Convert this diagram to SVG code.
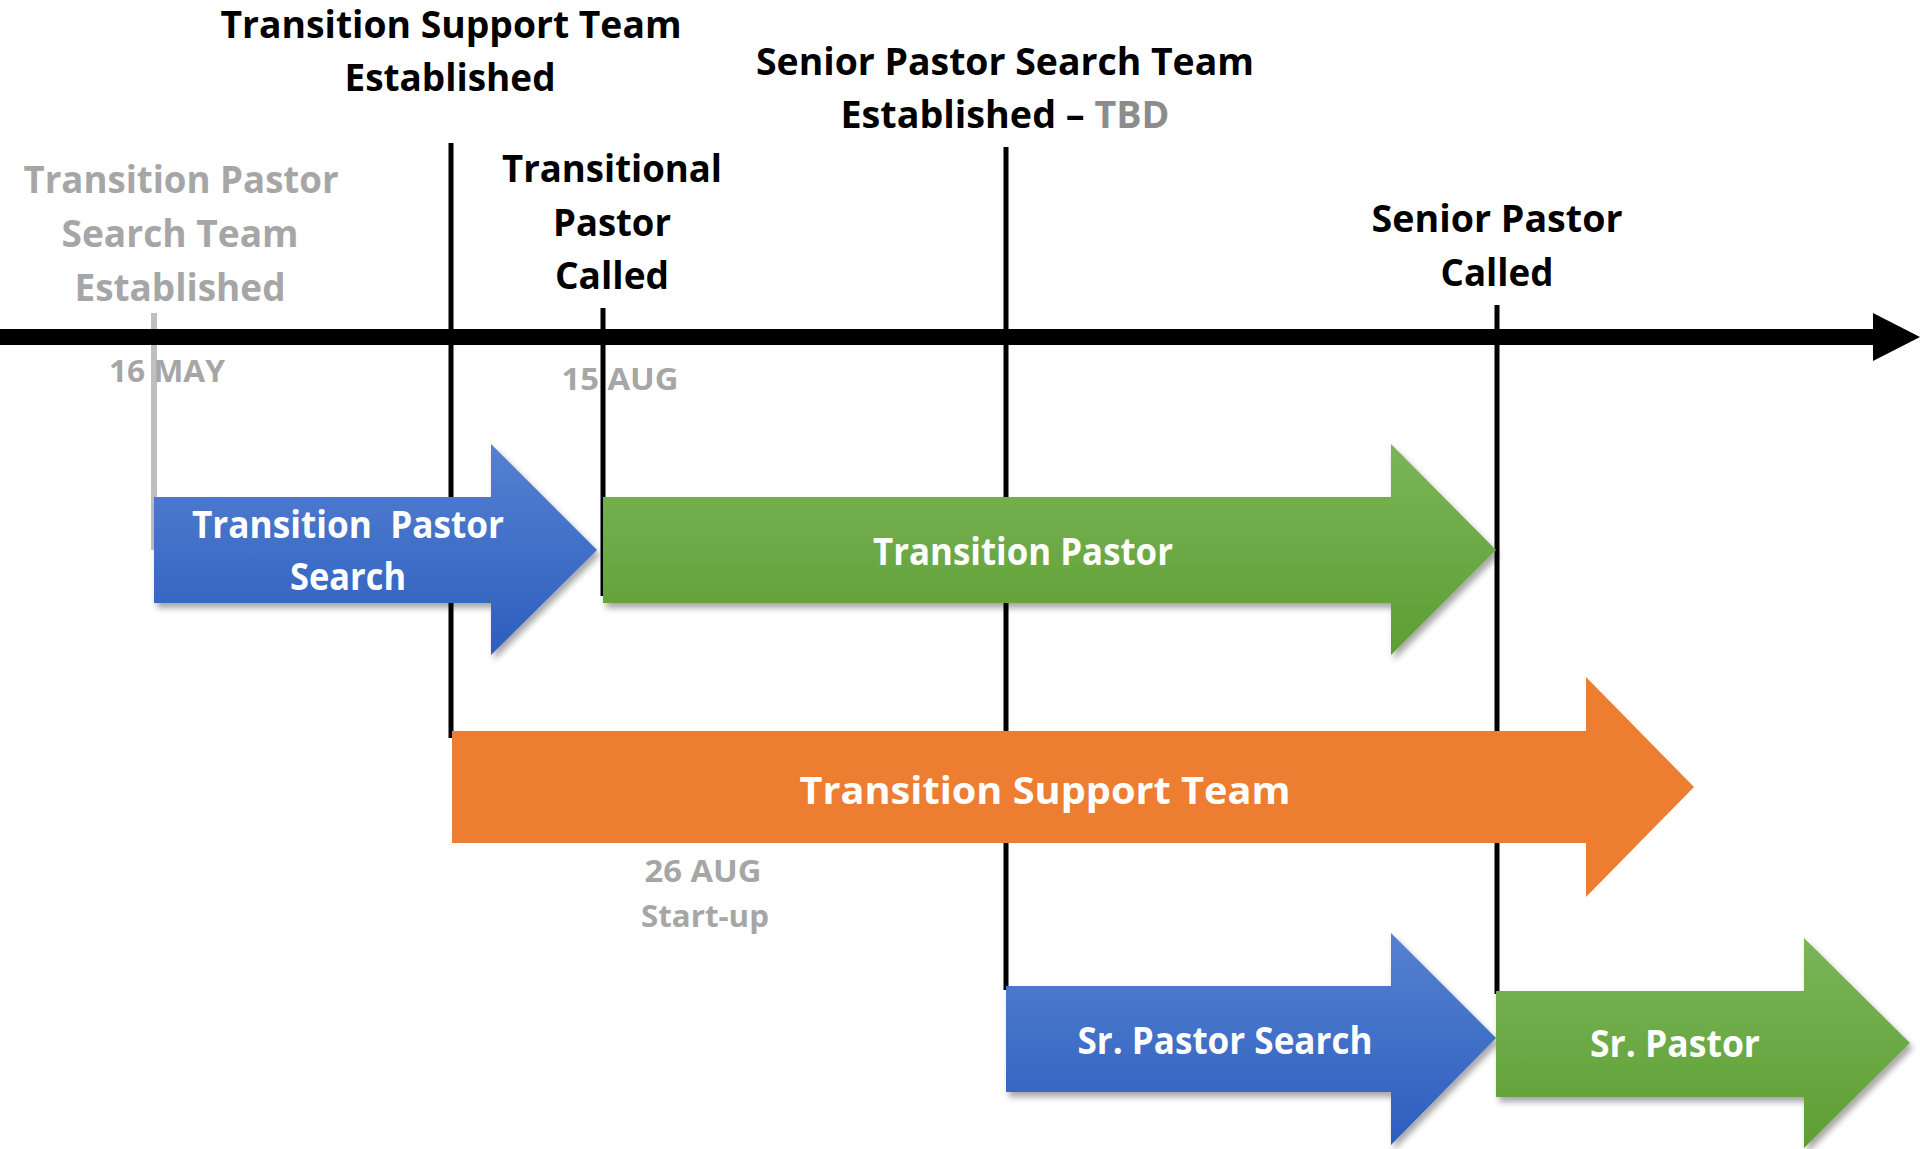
<svg xmlns="http://www.w3.org/2000/svg" width="1920" height="1149" viewBox="0 0 1920 1149">
<defs>
<linearGradient id="gBlue" x1="0" y1="0" x2="0" y2="1">
<stop offset="0" stop-color="#5581D1"/>
<stop offset="1" stop-color="#2D5EBE"/>
</linearGradient>
<linearGradient id="gGreen" x1="0" y1="0" x2="0" y2="1">
<stop offset="0" stop-color="#7AB558"/>
<stop offset="1" stop-color="#5E9E33"/>
</linearGradient>
<filter id="shadow" x="-10%" y="-10%" width="125%" height="130%">
<feDropShadow dx="3" dy="5" stdDeviation="3" flood-color="#000" flood-opacity="0.35"/>
</filter>
</defs>
<style>
text{font-family:"Open Sans","Noto Sans","Liberation Sans",sans-serif;font-weight:700;text-anchor:middle}
.h{font-size:37px;fill:#000}
.hg{font-size:37px;fill:#A6A6A6}
.d{font-size:31px;fill:#A6A6A6}
.w{font-size:38px;fill:#FFFFFF}
.vl{stroke:#000;stroke-width:5;fill:none}
</style>
<rect width="1920" height="1149" fill="#FFFFFF"/>
<g id="connectors">
<line class="vl" x1="154" y1="313" x2="154" y2="550" style="stroke:#BFBFBF;stroke-width:6"/>
<line class="vl" x1="451" y1="143" x2="451" y2="738"/>
<line class="vl" x1="603" y1="308" x2="603" y2="596"/>
<line class="vl" x1="1006" y1="147" x2="1006" y2="990"/>
<line class="vl" x1="1497" y1="305" x2="1497" y2="994"/>
<g id="axis">
<rect x="0" y="329" width="1875" height="16" fill="#000"/>
<polygon points="1873,313 1920,337 1873,361" fill="#000"/>
</g>
</g>
<g id="milestone-tpst">
<text class="hg" x="181" y="193" textLength="315" lengthAdjust="spacingAndGlyphs">Transition Pastor</text>
<text class="hg" x="180" y="247" textLength="237" lengthAdjust="spacingAndGlyphs">Search Team</text>
<text class="hg" x="180" y="301" textLength="211" lengthAdjust="spacingAndGlyphs">Established</text>
<text class="d" x="167" y="382" textLength="116" lengthAdjust="spacingAndGlyphs">16 MAY</text>
</g>
<g id="milestone-tst">
<text class="h" x="451" y="38" textLength="461" lengthAdjust="spacingAndGlyphs">Transition Support Team</text>
<text class="h" x="450" y="91" textLength="211" lengthAdjust="spacingAndGlyphs">Established</text>
</g>
<g id="milestone-tpc">
<text class="h" x="612" y="182" textLength="220" lengthAdjust="spacingAndGlyphs">Transitional</text>
<text class="h" x="612" y="236" textLength="118" lengthAdjust="spacingAndGlyphs">Pastor</text>
<text class="h" x="612" y="289" textLength="114" lengthAdjust="spacingAndGlyphs">Called</text>
<text class="d" x="620" y="390" textLength="117" lengthAdjust="spacingAndGlyphs">15 AUG</text>
</g>
<g id="milestone-spst">
<text class="h" x="1005" y="75" textLength="498" lengthAdjust="spacingAndGlyphs">Senior Pastor Search Team</text>
<text class="h" x="1005" y="128" textLength="329" lengthAdjust="spacingAndGlyphs">Established – <tspan fill="#8C8C8C">TBD</tspan></text>
</g>
<g id="milestone-spc">
<text class="h" x="1497" y="232" textLength="251" lengthAdjust="spacingAndGlyphs">Senior Pastor</text>
<text class="h" x="1497" y="286" textLength="113" lengthAdjust="spacingAndGlyphs">Called</text>
</g>
<g id="node-tp-search">
<path d="M154,497 H491 V444 L597,550 L491,655 V603 H154 Z" fill="url(#gBlue)" filter="url(#shadow)"/>
<text class="w" x="348" y="538" textLength="312" lengthAdjust="spacingAndGlyphs">Transition&#160; Pastor</text>
<text class="w" x="348" y="590" textLength="116" lengthAdjust="spacingAndGlyphs">Search</text>
</g>
<g id="node-tp">
<path d="M603,497 H1391 V444 L1496,550 L1391,655 V603 H603 Z" fill="url(#gGreen)" filter="url(#shadow)"/>
<text class="w" x="1023" y="565" textLength="300" lengthAdjust="spacingAndGlyphs">Transition Pastor</text>
</g>
<g id="node-tst">
<path d="M452,731 H1586 V677 L1694,787 L1586,897 V843 H452 Z" fill="#ED7D31"/>
<text class="w" x="1045" y="804" textLength="491" lengthAdjust="spacingAndGlyphs">Transition Support Team</text>
<text class="d" x="703" y="882" textLength="117" lengthAdjust="spacingAndGlyphs">26 AUG</text>
<text class="d" x="705" y="927" textLength="128" lengthAdjust="spacingAndGlyphs">Start-up</text>
</g>
<g id="node-sp-search">
<path d="M1006,986 H1391 V933 L1496,1038 L1391,1145 V1092 H1006 Z" fill="url(#gBlue)" filter="url(#shadow)"/>
<text class="w" x="1225" y="1054" textLength="295" lengthAdjust="spacingAndGlyphs">Sr. Pastor Search</text>
</g>
<g id="node-sp">
<path d="M1496,991 H1804 V938 L1910,1043 L1804,1148 V1097 H1496 Z" fill="url(#gGreen)" filter="url(#shadow)"/>
<text class="w" x="1675" y="1057" textLength="170" lengthAdjust="spacingAndGlyphs">Sr. Pastor</text>
</g>
</svg>
